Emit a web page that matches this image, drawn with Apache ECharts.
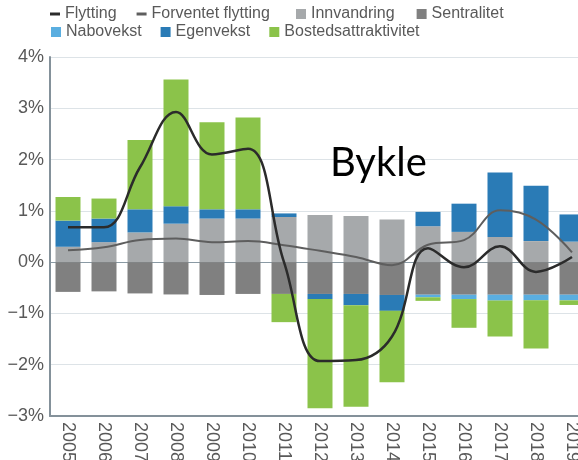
<!DOCTYPE html>
<html>
<head>
<meta charset="utf-8">
<script src="https://cdn.jsdelivr.net/npm/echarts@6/dist/echarts.min.js"></script>
<style>html,body{margin:0;padding:0;background:#fff;}#c{width:578px;height:460px;}</style>
</head>
<body>
<div id="c"></div>
<script>
var years = ['2005','2006','2007','2008','2009','2010','2011','2012','2013','2014','2015','2016','2017','2018','2019'];
var innvandring = [0.30,0.39,0.58,0.75,0.85,0.85,0.88,0.92,0.90,0.83,0.70,0.59,0.49,0.41,0.40];
var sentralitet = [-0.58,-0.57,-0.61,-0.63,-0.64,-0.62,-0.62,-0.62,-0.62,-0.64,-0.635,-0.635,-0.635,-0.635,-0.635];
var nabovekst = [0,0,0,0,0,0,0,0,0,0,-0.05,-0.085,-0.115,-0.11,-0.11];
var egenvekst = [0.51,0.46,0.45,0.34,0.18,0.18,0.07,-0.10,-0.22,-0.31,0.28,0.55,1.26,1.08,0.53];
var bosted = [0.46,0.39,1.35,2.47,1.70,1.79,-0.55,-2.13,-1.98,-1.39,-0.07,-0.56,-0.70,-0.94,-0.09];
var flytting = [0.68,0.68,1.85,2.93,2.10,2.21,0.0,-1.93,-1.91,-1.45,0.27,-0.10,0.31,-0.19,0.10];
var forventet = [0.23,0.29,0.43,0.46,0.39,0.41,0.33,0.22,0.10,-0.06,0.34,0.43,1.01,0.83,0.19];
var yTicks = [-3,-2,-1,0,1,2,3,4];

var C = {
  innv: '#a6a9ab', sent: '#808080', nabo: '#5aaee0', egen: '#2a7bb6', bost: '#8bc34a',
  fly: '#2b2b2b', forv: '#5e5e5e'
};
var font = 'Liberation Sans, Arial, sans-serif';
var txt = '#595959';

function bar(name, data, color) {
  return { name: name, type: 'bar', stack: 'a', data: data, barWidth: 25,
    itemStyle: { color: color }, emphasis: { disabled: true } };
}
var legendBase = { selectedMode: false, padding: 0, itemWidth: 10, itemHeight: 10,
  textStyle: { fontFamily: font, fontSize: 16, color: txt } };

var chart = echarts.init(document.getElementById('c'));
chart.setOption({
  animation: false,
  title: { text: 'Bykle', left: 330, top: 143, padding: 0,
    textStyle: { fontFamily: 'Lato, sans-serif', fontSize: 40, fontWeight: 'normal', color: '#000' } },
  legend: [
    Object.assign({}, legendBase, { left: 50, top: 6, itemGap: 20, itemHeight: 3, icon: 'rect',
      data: [{ name: 'Flytting', itemStyle: { color: C.fly } }, { name: 'Forventet flytting', itemStyle: { color: C.forv } }] }),
    Object.assign({}, legendBase, { left: 296, top: 6, itemGap: 22, icon: 'rect',
      data: ['Innvandring', 'Sentralitet'] }),
    Object.assign({}, legendBase, { left: 51, top: 24, itemGap: 19, icon: 'rect',
      data: ['Nabovekst', 'Egenvekst', 'Bostedsattraktivitet'] })
  ],
  grid: { left: 50, right: -12, top: 57, bottom: 44, containLabel: false, outerBoundsMode: 'none' },
  xAxis: {
    type: 'category', data: years,
    axisLine: { onZero: false, lineStyle: { color: '#84919a', width: 2 } },
    axisTick: { show: false },
    axisLabel: { rotate: -90, margin: 6, fontFamily: font, fontSize: 18, color: txt }
  },
  yAxis: {
    type: 'value', min: yTicks[0], max: yTicks[yTicks.length - 1], interval: 1,
    axisLine: { show: true, lineStyle: { color: '#84919a', width: 2 } },
    axisTick: { show: false },
    axisLabel: { margin: 6, fontFamily: font, fontSize: 18, color: txt,
      formatter: function (v) { return (v < 0 ? '\u2212' + Math.abs(v) : v) + '%'; } },
    splitLine: { show: true, lineStyle: { width: 1.2,
      color: yTicks.map(function (t) { return t === 0 ? '#8a9aa4' : '#dde3e7'; }) } }
  },
  series: [
    bar('Innvandring', innvandring, C.innv),
    bar('Sentralitet', sentralitet, C.sent),
    bar('Nabovekst', nabovekst, C.nabo),
    bar('Egenvekst', egenvekst, C.egen),
    bar('Bostedsattraktivitet', bosted, C.bost),
    { name: 'Forventet flytting', type: 'line', data: forventet, smooth: 0.4, symbol: 'none',
      lineStyle: { color: C.forv, width: 2 }, itemStyle: { color: C.forv }, z: 5 },
    { name: 'Flytting', type: 'line', data: flytting, smooth: 0.4, symbol: 'none',
      lineStyle: { color: C.fly, width: 2.5 }, itemStyle: { color: C.fly }, z: 6 }
  ]
});
</script>
</body>
</html>
